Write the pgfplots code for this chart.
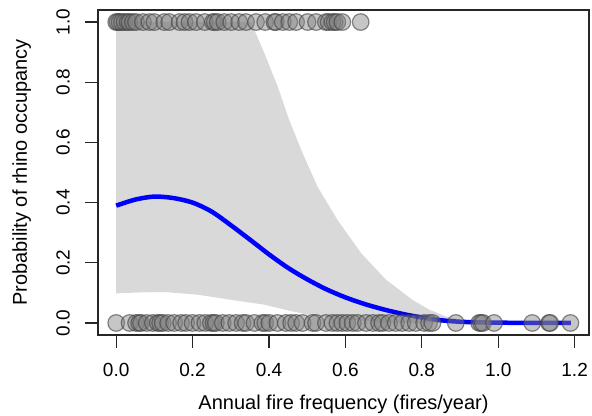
\documentclass[border=0pt]{standalone}
\usepackage{fontspec}
\setmainfont{Liberation Sans}
\usepackage{pgfplots}
\pgfplotsset{compat=1.18}

\definecolor{bandgray}{HTML}{D9D9D9}

\begin{document}
\begin{tikzpicture}
\useasboundingbox (-98bp,-81bp) rectangle (494bp,335bp);
\begin{axis}[
    at={(0,0)}, anchor=south west,
    scale only axis, width=491bp, height=325bp,
    xmin=-0.0476, xmax=1.2376, ymin=-0.04, ymax=1.04,
    xtick={0,0.2,0.4,0.6,0.8,1.0,1.2},
    ytick={0,0.2,0.4,0.6,0.8,1.0},
    xtick pos=left, ytick pos=left,
    tick align=outside, major tick length=13bp,
    every tick/.style={draw=black!85, line width=1.1bp},
    axis line style={black!85, line width=1.3bp},
    /pgf/number format/.cd, fixed, fixed zerofill, precision=1, assume math mode=true,
    /pgfplots/.cd,
    tick label style={font=\fontsize{19bp}{23bp}\selectfont},
    xticklabel style={anchor=north, inner sep=0pt},
    xticklabel shift=14.7bp,
    yticklabel style={rotate=90, anchor=south, inner sep=0pt},
    yticklabel shift=15bp,
    label style={font=\fontsize{20bp}{24bp}\selectfont},
    xlabel={Annual fire frequency (fires/year)},
    ylabel={Probability of rhino occupancy},
    xlabel style={at={(axis description cs:0.5,-0.2277)}, anchor=base, inner sep=0pt},
    ylabel style={at={(axis description cs:-0.1446,0.5)}, rotate=0, anchor=base, inner sep=0pt},
]
% confidence band
\addplot[fill=bandgray, draw=none] coordinates {
  (0,1.0) (0.355,1.0) (0.362,0.973) (0.388,0.896) (0.423,0.785) (0.453,0.674)
  (0.488,0.564) (0.527,0.453) (0.579,0.343) (0.641,0.232) (0.706,0.144)
  (0.775,0.077) (0.82,0.044) (0.862,0.022) (0.9,0.011) (0.95,0.004)
  (1.0,0.001) (1.19,0.0)
  (0.8,0.0) (0.7,0.001) (0.6,0.012) (0.5,0.028) (0.456,0.04) (0.387,0.061)
  (0.3,0.077) (0.213,0.094) (0.125,0.103) (0.05,0.101) (0,0.098)
} -- cycle;
% fitted probability
\addplot[blue, line width=4.5bp, smooth] coordinates {
  (0,0.39) (0.05,0.41) (0.1,0.42) (0.15,0.415) (0.2,0.40) (0.25,0.37)
  (0.3,0.325) (0.35,0.277) (0.4,0.228) (0.45,0.183) (0.5,0.145) (0.55,0.112)
  (0.6,0.085) (0.65,0.063) (0.7,0.045) (0.75,0.030) (0.8,0.018) (0.85,0.009)
  (0.9,0.004) (0.95,0.002) (1.0,0.001) (1.1,0.0) (1.19,0.0)
};
% observations
\addplot[only marks, mark=*, mark size=8.3bp,
  mark options={fill=gray, fill opacity=0.45, draw=black!75, draw opacity=0.6, line width=1.2bp}]
  coordinates {
  (0,1) (0.004,1) (0.009,1) (0.015,1) (0.022,1) (0.03,1) (0.035,1) (0.044,1)
  (0.052,1) (0.07,1) (0.087,1) (0.1,1) (0.126,1) (0.139,1) (0.166,1) (0.179,1)
  (0.192,1) (0.209,1) (0.232,1) (0.253,1) (0.258,1) (0.266,1) (0.283,1) (0.301,1)
  (0.322,1) (0.34,1) (0.366,1) (0.39,1) (0.414,1) (0.418,1) (0.436,1) (0.453,1)
  (0.471,1) (0.501,1) (0.523,1) (0.549,1) (0.556,1) (0.566,1) (0.572,1) (0.579,1)
  (0.592,1) (0.64,1)
  (0,0) (0.035,0) (0.052,0) (0.06,0) (0.065,0) (0.08,0) (0.096,0) (0.109,0)
  (0.115,0) (0.122,0) (0.136,0) (0.152,0) (0.17,0) (0.183,0) (0.2,0) (0.218,0)
  (0.233,0) (0.248,0) (0.255,0) (0.261,0) (0.279,0) (0.296,0) (0.314,0) (0.331,0)
  (0.34,0) (0.362,0) (0.383,0) (0.39,0) (0.401,0) (0.422,0) (0.444,0) (0.458,0)
  (0.471,0) (0.488,0) (0.514,0) (0.523,0) (0.549,0) (0.566,0) (0.579,0) (0.592,0)
  (0.605,0) (0.619,0) (0.632,0) (0.654,0) (0.672,0) (0.688,0) (0.697,0) (0.714,0)
  (0.732,0) (0.749,0) (0.767,0) (0.784,0) (0.806,0) (0.819,0) (0.828,0)
  (0.889,0) (0.95,0) (0.955,0) (0.96,0) (0.989,0) (1.089,0) (1.133,0) (1.136,0)
  (1.189,0)
};
\end{axis}
\end{tikzpicture}
\end{document}
